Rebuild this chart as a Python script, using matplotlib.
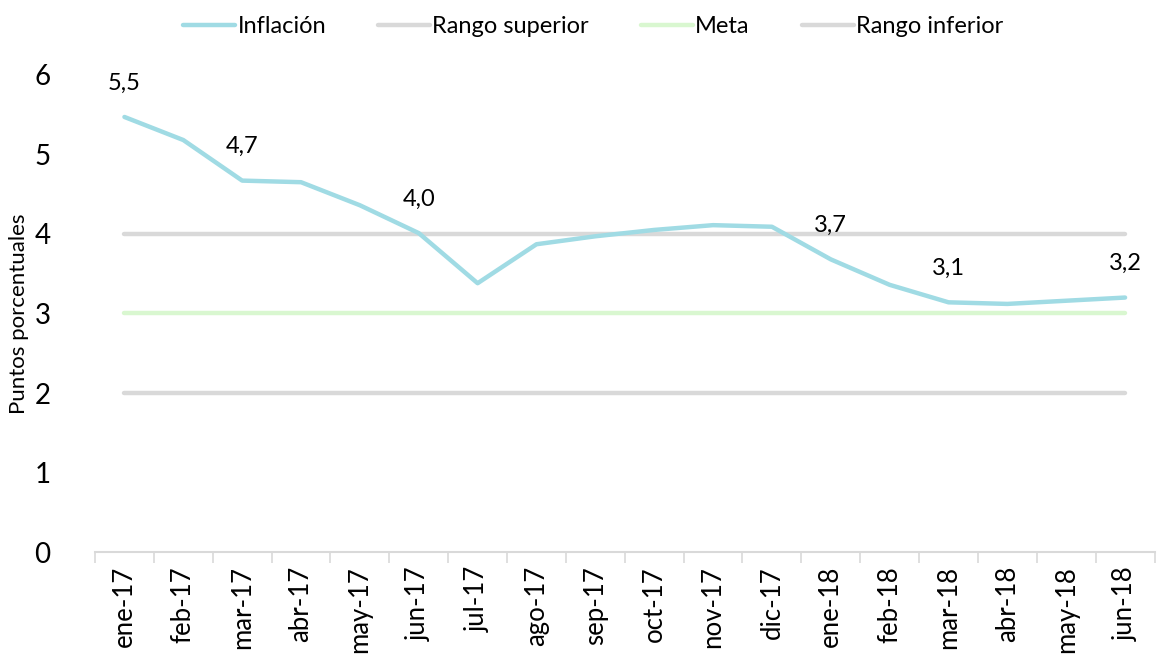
import matplotlib
matplotlib.use("Agg")
import matplotlib.pyplot as plt
import numpy as np

plt.rcParams['font.family'] = ['Lato', 'DejaVu Sans']

months = ["ene-17", "feb-17", "mar-17", "abr-17", "may-17", "jun-17", "jul-17", "ago-17",
          "sep-17", "oct-17", "nov-17", "dic-17", "ene-18", "feb-18", "mar-18", "abr-18",
          "may-18", "jun-18"]
inflacion = [5.47, 5.18, 4.67, 4.65, 4.36, 4.01, 3.38, 3.87, 3.97, 4.05, 4.11, 4.09,
             3.68, 3.36, 3.14, 3.12, 3.16, 3.20]
rango_superior = [4.0] * 18
meta = [3.0] * 18
rango_inferior = [2.0] * 18
label_idx = [0, 2, 5, 12, 14, 17]
label_txt = ["5,5", "4,7", "4,0", "3,7", "3,1", "3,2"]

fig = plt.figure(figsize=(11.63, 6.62), dpi=100)
ax = fig.add_axes([0.0817, 0.166, 0.911, 0.721])
x = np.arange(len(months))

ax.plot(x, inflacion, color="#a0dbe4", lw=3.2, label="Inflación", solid_capstyle="round", zorder=4)
ax.plot(x, rango_superior, color="#d9d9d9", lw=3.2, label="Rango superior", solid_capstyle="round", zorder=3)
ax.plot(x, meta, color="#d9f7d0", lw=3.2, label="Meta", solid_capstyle="round", zorder=3)
ax.plot(x, rango_inferior, color="#d9d9d9", lw=3.2, label="Rango inferior", solid_capstyle="round", zorder=3)

for i, t in zip(label_idx, label_txt):
    ax.annotate(t, (x[i], inflacion[i]), xytext=(0, 17), textcoords="offset points",
                ha="center", va="bottom", fontsize=17, color="black")

ax.set_xlim(-0.5, len(months) - 0.5)
ax.set_ylim(0, 6)
ax.set_yticks(range(0, 7))
ax.tick_params(axis="y", length=0, labelsize=20, pad=32)
ax.set_xticks(x)
ax.set_xticklabels(months, rotation=90, fontsize=18.5)
ax.tick_params(axis="x", which="major", length=0, pad=10)
ax.set_xticks(np.arange(-0.5, len(months), 1), minor=True)
ax.tick_params(axis="x", which="minor", length=8, color="#d9d9d9", width=1.2)
for s in ["top", "right", "left"]:
    ax.spines[s].set_visible(False)
ax.spines["bottom"].set_color("#d9d9d9")
ax.spines["bottom"].set_linewidth(1.5)
ax.set_ylabel("Puntos porcentuales", fontsize=16)
ax.yaxis.set_label_coords(-0.062, 0.5)

fig.legend(loc="upper center", bbox_to_anchor=(0.51, 1.008), ncol=4, frameon=False,
           fontsize=17, handlelength=2.2, handletextpad=0.1, columnspacing=2.2)

fig.savefig("out.png", dpi=100)
